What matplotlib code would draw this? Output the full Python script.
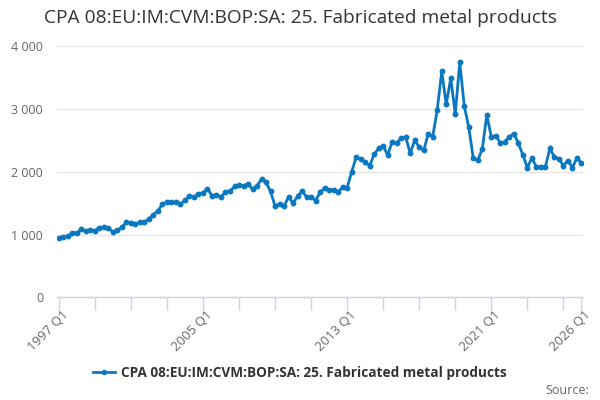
import matplotlib
matplotlib.use("Agg")
import matplotlib.pyplot as plt
from matplotlib.lines import Line2D

plt.rcParams['font.family'] = ['Open Sans', 'DejaVu Sans']

years = list(range(1997, 2027))
quarters = [f"{y} Q{q}" for y in years for q in (1, 2, 3, 4)][:117]

values = [
    939, 965, 971, 1029, 1029, 1083, 1061, 1072, 1061, 1109,
    1115, 1104, 1045, 1072, 1115, 1195, 1179, 1173, 1195, 1195,
    1253, 1317, 1381, 1483, 1515, 1520, 1515, 1483, 1547, 1621,
    1600, 1648, 1664, 1733, 1621, 1637, 1600, 1677, 1688, 1769,
    1790, 1780, 1806, 1726, 1780, 1887, 1833, 1688, 1457, 1489,
    1457, 1597, 1505, 1608, 1694, 1597, 1597, 1543, 1672, 1742,
    1715, 1715, 1672, 1763, 1747, 2000, 2231, 2210, 2156, 2097,
    2280, 2376, 2413, 2267, 2480, 2456, 2540, 2556, 2296, 2503,
    2397, 2344, 2608, 2561, 2989, 3603, 3079, 3492, 2926, 3746,
    3053, 2709, 2217, 2185, 2365, 2905, 2561, 2577, 2460, 2481,
    2561, 2608, 2460, 2270, 2069, 2217, 2085, 2085, 2079, 2376,
    2238, 2206, 2101, 2180, 2069, 2222, 2143,
]

tick_labels = ["1997 Q1", "2005 Q1", "2013 Q1", "2021 Q1", "2026 Q1"]
y_ticks = [0, 1000, 2000, 3000, 4000]
series_name = "CPA 08:EU:IM:CVM:BOP:SA: 25. Fabricated metal products"
title = "CPA 08:EU:IM:CVM:BOP:SA: 25. Fabricated metal products"

color = '#0a78c0'
fig = plt.figure(figsize=(6, 4), dpi=100)
ax = fig.add_axes([0.095, 0.2568, 0.877, 0.627])

x = list(range(len(values)))
ax.plot(x, values, color=color, lw=2, marker='o', ms=3.2, zorder=3)

ax.set_ylim(0, 4000)
ax.set_xlim(-0.4, len(values) - 1 + 0.4)
ax.set_yticks(y_ticks)
ax.set_yticklabels([f"{v:,}".replace(",", " ") for v in y_ticks])
ax.grid(axis='y', color='#e6e6e6', lw=1)
ax.set_axisbelow(True)

minor_pos = [i for i in range(0, len(values), 8)] + [len(values) - 1]
ax.set_xticks(minor_pos)
ax.set_xticklabels([""] * len(minor_pos))
label_pos = [quarters.index(t) for t in tick_labels]
for p, t in zip(label_pos, tick_labels):
    ax.text(p + 0.6, -0.045, t, transform=ax.get_xaxis_transform(), rotation=45,
            ha='right', va='top', fontsize=9.5, color='#666666',
            rotation_mode='anchor')
ax.tick_params(axis='x', length=9, color='#ccd6eb', width=1, pad=2)
ax.tick_params(axis='y', length=0, labelsize=9, labelcolor='#666666', pad=10)

for s in ['top', 'right', 'left']:
    ax.spines[s].set_visible(False)
ax.spines['bottom'].set_color('#ccd6eb')
ax.spines['bottom'].set_linewidth(1)

fig.text(0.5, 0.955, title, ha='center', va='center', fontsize=13.8, color='#333333')

handle = Line2D([0], [0], color=color, lw=2, marker='o', ms=3)
fig.legend([handle], [series_name], loc='center', bbox_to_anchor=(0.5, 0.068),
           frameon=False, prop={'weight': 'bold', 'size': 9.8},
           handlelength=1.6, handletextpad=0.5, labelcolor='#333333')

fig.text(0.982, 0.025, "Source:", ha='right', va='center', fontsize=9, color='#666666')

fig.savefig("out.png", dpi=100)
